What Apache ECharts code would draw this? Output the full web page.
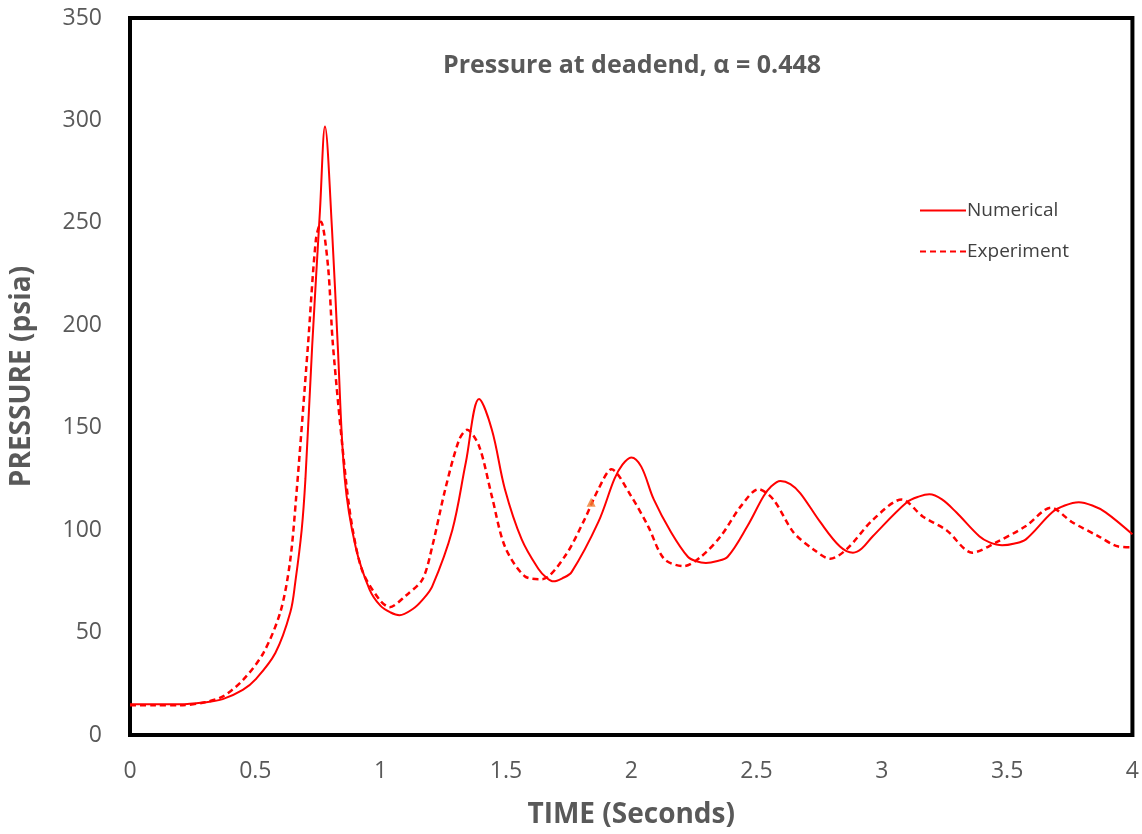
<!DOCTYPE html>
<html>
<head>
<meta charset="utf-8">
<script src="https://cdn.jsdelivr.net/npm/echarts@6/dist/echarts.min.js"></script>
<style>html,body{margin:0;padding:0;background:#fff}#c{width:1142px;height:834px}</style>
</head>
<body>
<div id="c"></div>
<script>
var xTicks = [0, 0.5, 1, 1.5, 2, 2.5, 3, 3.5, 4];
var yTicks = [0, 50, 100, 150, 200, 250, 300, 350];

var numTime = [0, 0.1, 0.2, 0.3, 0.37, 0.45, 0.5, 0.58, 0.64, 0.66, 0.685, 0.70, 0.727, 0.758, 0.778, 0.806, 0.829, 0.857, 0.9, 0.956, 1.0, 1.04, 1.075, 1.127, 1.167, 1.206, 1.286, 1.34, 1.393, 1.444, 1.496, 1.563, 1.63, 1.66, 1.69, 1.725, 1.762, 1.869, 1.933, 1.965, 2.0, 2.04, 2.09, 2.159, 2.226, 2.26, 2.298, 2.34, 2.385, 2.464, 2.528, 2.56, 2.595, 2.635, 2.675, 2.754, 2.833, 2.885, 2.92, 2.964, 3.1, 3.15, 3.19, 3.24, 3.297, 3.389, 3.43, 3.48, 3.53, 3.575, 3.68, 3.73, 3.786, 3.84, 3.893, 4.0];
var numPressure = [15, 15, 15, 16, 17.5, 22, 27, 40, 60, 75, 100, 125, 190, 256, 297, 247, 190, 125, 92, 71, 63, 59.8, 58.5, 61.4, 66, 72.6, 100, 133, 164, 149, 120, 95.5, 81, 77, 75, 76.5, 79.5, 104, 125, 132, 135.5, 131, 115, 99, 87, 84.8, 84, 84.8, 87, 102, 116.5, 121.5, 124, 122.5, 118, 104, 92, 89, 91, 97, 113.6, 116.5, 117.5, 115, 108.7, 97, 94, 92.6, 93.5, 95.5, 108.7, 112, 113.6, 112, 108.7, 98];

var expTime = [0, 0.1, 0.2, 0.3, 0.373, 0.452, 0.532, 0.6, 0.638, 0.663, 0.71, 0.742, 0.762, 0.79, 0.81, 0.861, 0.889, 0.929, 0.996, 1.036, 1.1, 1.167, 1.206, 1.258, 1.313, 1.345, 1.393, 1.444, 1.496, 1.575, 1.643, 1.734, 1.813, 1.869, 1.921, 2.0, 2.067, 2.131, 2.21, 2.278, 2.357, 2.437, 2.508, 2.567, 2.647, 2.726, 2.794, 2.86, 2.964, 3.08, 3.163, 3.258, 3.361, 3.456, 3.575, 3.675, 3.758, 3.865, 3.944, 4.0];
var expPressure = [14.5, 14.5, 14.5, 16, 19, 27, 40, 60, 84, 116, 190, 242, 250.5, 229, 190, 125, 100, 79.5, 66, 62.4, 68, 76, 92, 120, 144, 149, 141, 116.5, 92, 77.5, 76, 87, 105, 120, 129.7, 116.5, 102, 86, 82.4, 87, 97, 111.6, 120, 115, 99, 90.7, 86, 90.7, 105, 115, 106.7, 100, 89, 94, 102, 111, 104, 97, 92, 91.6];

var markTime = [1.84];
var markPressure = [113.6];

function pairs(xs, ys) { return xs.map(function (x, i) { return [x, ys[i]]; }); }

var FONT = '"Open Sans", "Liberation Sans", sans-serif';
var chart = echarts.init(document.getElementById('c'), null, { renderer: 'canvas' });
chart.setOption({
  animation: false,
  backgroundColor: '#fff',
  title: {
    text: 'Pressure at deadend, \u03b1 = 0.448',
    left: 627, top: 48, textAlign: 'center',
    textStyle: { fontFamily: FONT, fontSize: 25, fontWeight: 'bold', color: '#595959' }
  },
  legend: {
    orient: 'vertical', left: 914, top: 196,
    itemWidth: 46, itemHeight: 14, itemGap: 22,
    data: ['Numerical', 'Experiment'],
    itemStyle: { opacity: 0 },
    textStyle: { fontFamily: FONT, fontSize: 19, color: '#404040', padding: [0, 0, 0, -4] }
  },
  grid: {
    left: 126, top: 18, right: 8, bottom: 98,
    show: true, borderColor: '#000', borderWidth: 4, backgroundColor: '#fff'
  },
  xAxis: {
    type: 'value', min: 0, max: 4, interval: 0.5,
    name: 'TIME (Seconds)', nameLocation: 'middle', nameGap: 66,
    nameTextStyle: { fontFamily: FONT, fontSize: 28, fontWeight: 'bold', color: '#595959' },
    axisLine: { show: false }, axisTick: { show: false }, splitLine: { show: false },
    axisLabel: { fontFamily: FONT, fontSize: 23, color: '#595959', margin: 25,
      formatter: function (v) { return xTicks.indexOf(v) >= 0 ? String(v) : ''; } }
  },
  yAxis: {
    type: 'value', min: 0, max: 350, interval: 50,
    name: 'PRESSURE (psia)', nameLocation: 'middle', nameGap: 94,
    nameTextStyle: { fontFamily: FONT, fontSize: 28, fontWeight: 'bold', color: '#595959' },
    axisLine: { show: false }, axisTick: { show: false }, splitLine: { show: false },
    axisLabel: { fontFamily: FONT, fontSize: 23, color: '#595959', margin: 28,
      formatter: function (v) { return yTicks.indexOf(v) >= 0 ? String(v) : ''; } }
  },
  series: [
    {
      name: 'Numerical', type: 'line', data: pairs(numTime, numPressure),
      showSymbol: false, symbol: 'none', smooth: 0.35,
      lineStyle: { color: '#ff0000', width: 2 }, itemStyle: { color: '#ff0000' }, z: 3
    },
    {
      name: 'Experiment', type: 'line', data: pairs(expTime, expPressure),
      showSymbol: false, symbol: 'none', smooth: 0.3,
      lineStyle: { color: '#ff0000', width: 2.5, type: [6, 4] }, itemStyle: { color: '#ff0000' }, z: 2
    },
    {
      name: 'mark', type: 'scatter', data: pairs(markTime, markPressure),
      symbol: 'triangle', symbolSize: 9, itemStyle: { color: '#ed7d31' }, z: 4
    }
  ]
});
</script>
</body>
</html>
